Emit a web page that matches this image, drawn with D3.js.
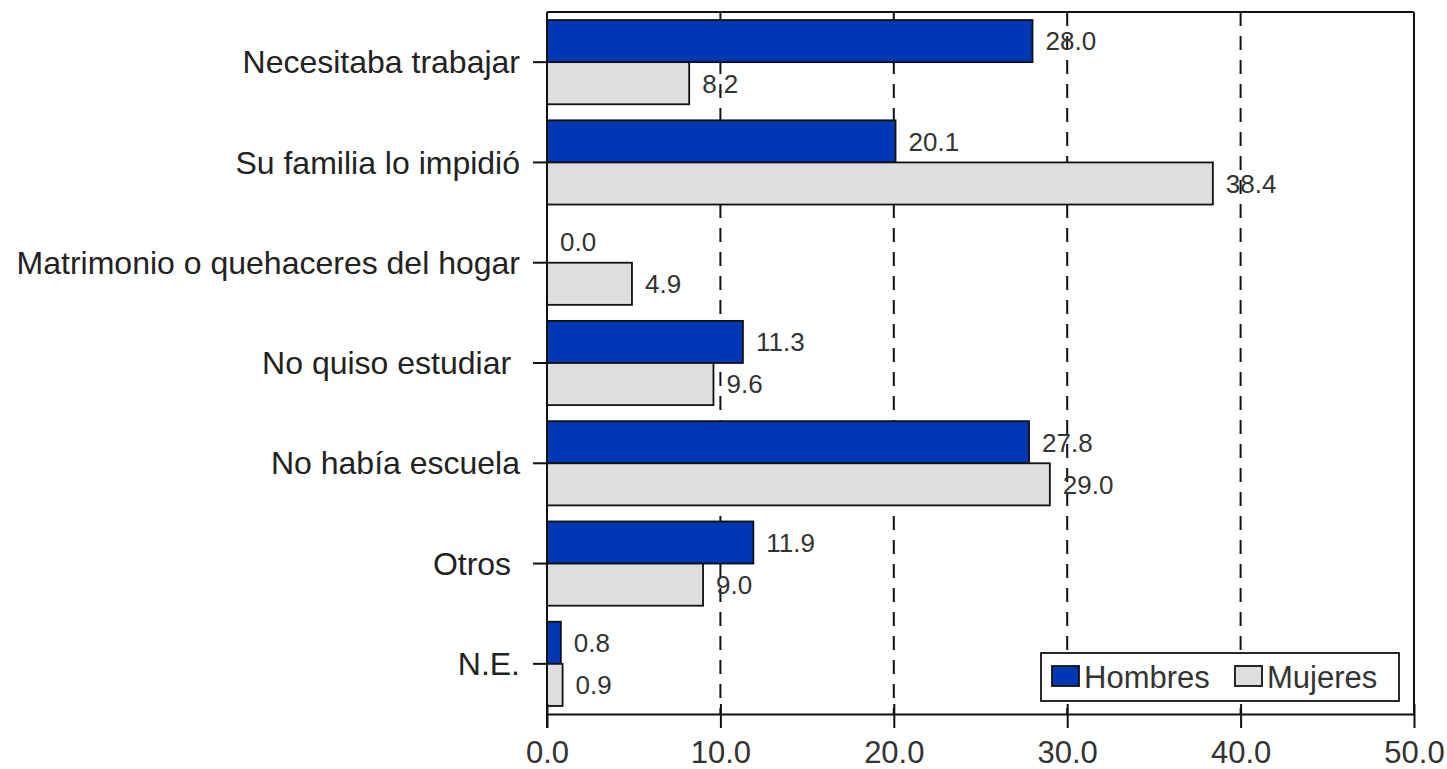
<!DOCTYPE html>
<html>
<head>
<meta charset="utf-8">
<script src="https://cdn.jsdelivr.net/npm/d3@7"></script>
<style>
  html, body { margin: 0; padding: 0; background: #fff; }
  svg { display: block; }
  text { font-family: "Liberation Sans", Arial, sans-serif; }
</style>
</head>
<body>
<svg id="chart" width="1447" height="769"></svg>
<script>
const categories = ["Necesitaba trabajar", "Su familia lo impidió", "Matrimonio o quehaceres del hogar", "No quiso estudiar ", "No había escuela", "Otros ", "N.E."];
const hombres = [28.0, 20.1, 0.0, 11.3, 27.8, 11.9, 0.8];
const mujeres = [8.2, 38.4, 4.9, 9.6, 29.0, 9.0, 0.9];
const seriesNames = ["Hombres", "Mujeres"];
const xTicks = [0, 10, 20, 30, 40, 50];

(function () {
const svg = d3.select("#chart");
const pLeft = 547, pRight = 1414, pTop = 12, pBottom = 714;
const x = d3.scaleLinear().domain([0, 50]).range([pLeft, pRight]);
const y = d3.scaleBand().domain(categories).range([pTop, pBottom]).paddingInner(0).paddingOuter(0);
const barH = y.bandwidth() * 0.42;

// dashed gridlines
svg.append("g").selectAll("line").data(xTicks.filter(d => d > 0 && d < 50)).join("line")
  .attr("x1", d => x(d)).attr("x2", d => x(d))
  .attr("y1", pTop).attr("y2", pBottom)
  .attr("stroke", "#111").attr("stroke-width", 2).attr("stroke-dasharray", "14,10");

// bars
const data = categories.map((c, i) => ({c, h: hombres[i], m: mujeres[i]}));
const g = svg.append("g");
const colors = {Hombres: "#0037b4", Mujeres: "#dedede"};
data.forEach(d => {
  const cy = y(d.c) + y.bandwidth() / 2;
  if (d.h > 0) {
    g.append("rect").attr("x", x(0)).attr("y", cy - barH).attr("width", x(d.h) - x(0)).attr("height", barH)
      .attr("fill", colors.Hombres).attr("stroke", "#111").attr("stroke-width", 1.8);
  }
  g.append("rect").attr("x", x(0)).attr("y", cy).attr("width", x(d.m) - x(0)).attr("height", barH)
    .attr("fill", colors.Mujeres).attr("stroke", "#111").attr("stroke-width", 1.8);
  g.append("text").attr("x", x(d.h) + 13).attr("y", cy - barH / 2).attr("dy", "0.36em")
    .attr("font-size", 26).attr("fill", "#333").text(d.h.toFixed(1));
  g.append("text").attr("x", x(d.m) + 13).attr("y", cy + barH / 2).attr("dy", "0.36em")
    .attr("font-size", 26).attr("fill", "#333").text(d.m.toFixed(1));
});

// frame top/right
svg.append("line").attr("x1", pLeft).attr("x2", pRight).attr("y1", pTop).attr("y2", pTop).attr("stroke", "#111").attr("stroke-width", 2);
svg.append("line").attr("x1", pRight).attr("x2", pRight).attr("y1", pTop).attr("y2", pBottom).attr("stroke", "#111").attr("stroke-width", 2);

// x axis
const xAxis = svg.append("g").attr("transform", `translate(0,${pBottom})`)
  .call(d3.axisBottom(x).tickValues(xTicks).tickFormat(d3.format(".1f")).tickSizeInner(14).tickSizeOuter(0).tickPadding(13));
xAxis.select(".domain").attr("stroke", "#111").attr("stroke-width", 2);
xAxis.selectAll(".tick line").attr("stroke", "#111").attr("stroke-width", 2).attr("y1", -10);
xAxis.selectAll(".tick text").attr("font-size", 31).attr("fill", "#333").attr("font-family", "Liberation Sans, Arial, sans-serif");

// y axis
const yAxis = svg.append("g").attr("transform", `translate(${pLeft},0)`)
  .call(d3.axisLeft(y).tickSizeInner(14).tickSizeOuter(0).tickPadding(13));
yAxis.select(".domain").attr("stroke", "#111").attr("stroke-width", 2).attr("d", `M0,${pTop}V${pBottom + 14}`);
yAxis.selectAll(".tick line").attr("stroke", "#111").attr("stroke-width", 2);
yAxis.selectAll(".tick text").attr("font-size", 32).attr("fill", "#222").attr("dy", "0.35em")
  .style("white-space", "pre").attr("font-family", "Liberation Sans, Arial, sans-serif");

// legend
const lg = svg.append("g");
lg.append("rect").attr("x", 1041).attr("y", 653).attr("width", 358).attr("height", 48)
  .attr("fill", "#fff").attr("stroke", "#111").attr("stroke-width", 1.8);
const legX = [1052, 1235];
seriesNames.forEach((s, i) => {
  lg.append("rect").attr("x", legX[i]).attr("y", 666).attr("width", 27).attr("height", 20)
    .attr("fill", colors[s]).attr("stroke", "#111").attr("stroke-width", 1.8);
  lg.append("text").attr("x", legX[i] + 32).attr("y", 677).attr("dy", "0.36em")
    .attr("font-size", 31).attr("fill", "#333").text(s);
});
})();
</script>
</body>
</html>
